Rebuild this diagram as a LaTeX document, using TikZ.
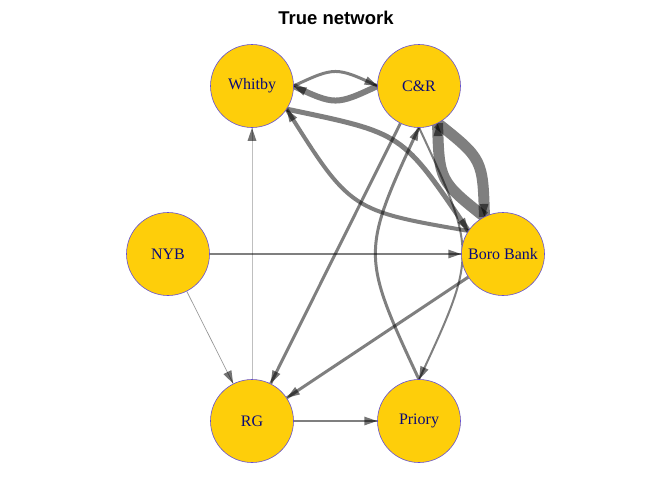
\documentclass[tikz,border=0pt]{standalone}
\usepackage{fontspec}
\setmainfont{Liberation Serif}
\newfontfamily\titlefont{Liberation Sans}
\usetikzlibrary{arrows.meta,calc}
\definecolor{vfill}{RGB}{254,206,10}
\definecolor{vframe}{RGB}{100,80,210}
\definecolor{vlabel}{RGB}{10,10,120}
\pgfdeclarelayer{edges}
\pgfsetlayers{edges,main}

\begin{document}
\begin{tikzpicture}[x=1pt,y=1pt,
    vertex/.style={circle, fill=vfill, draw=vframe, line width=.6pt,
        minimum size=83pt, inner sep=0pt, text=vlabel,
        font=\fontsize{16}{18}\selectfont},
    edge/.style={draw=black, draw opacity=.5, line width=#1,
        postaction={draw, draw opacity=0, fill opacity=.55, line width=.1pt,
            -{Triangle[length=13pt,width=9pt]}}},
    curved/.style={bend left=#1, looseness=1.4}]
\useasboundingbox (0,0) rectangle (672,-480);
\node[anchor=base, font=\titlefont\bfseries\fontsize{18.5}{20}\selectfont]
    (title) at (336,-24) {True network};
% vertices
\node[vertex] (wh)  at (252,-86)  {Whitby};
\node[vertex] (cr)  at (419,-86)  {C\&R};
\node[vertex] (nyb) at (168,-254) {NYB};
\node[vertex] (bb)  at (503,-254) {Boro Bank};
\node[vertex] (rg)  at (252,-421) {RG};
\node[vertex] (pr)  at (419,-421) {Priory};
% edges
\begin{pgfonlayer}{edges}
\draw[edge=3pt]  ($(wh)!41.5pt!(cr)$) to[curved=25] ($(cr)!41.5pt!(wh)$);
\draw[edge=6pt]  ($(cr)!41.5pt!(wh)$) to[curved=25] ($(wh)!41.5pt!(cr)$);
\draw[edge=5pt]  ($(wh)!41.5pt!(bb)$) to[curved=22] ($(bb)!41.5pt!(wh)$);
\draw[edge=4pt]  ($(bb)!41.5pt!(wh)$) to[curved=24] ($(wh)!41.5pt!(bb)$);
\draw[edge=11pt] ($(cr)!41.5pt!(bb)$) to[curved=25] ($(bb)!41.5pt!(cr)$);
\draw[edge=11pt] ($(bb)!41.5pt!(cr)$) to[curved=25] ($(cr)!41.5pt!(bb)$);
\draw[edge=3pt]  ($(pr)!41.5pt!(cr)$) to[curved=25] ($(cr)!41.5pt!(pr)$);
\draw[edge=2pt]  ($(cr)!41.5pt!(pr)$) to[curved=25] ($(pr)!41.5pt!(cr)$);
\draw[edge=2pt]  (nyb) -- (bb);
\draw[edge=.7pt, draw opacity=.4] (nyb) -- (rg);
\draw[edge=.3pt, draw opacity=.25] (rg) -- (wh);
\draw[edge=3pt]  (cr) -- (rg);
\draw[edge=3pt]  (bb) -- (rg);
\draw[edge=2pt]  (rg) -- (pr);
\end{pgfonlayer}
\end{tikzpicture}
\end{document}
